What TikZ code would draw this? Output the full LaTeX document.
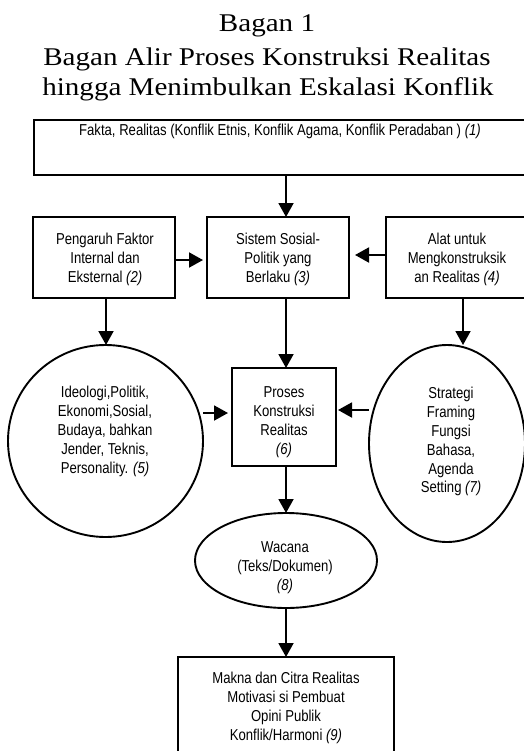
\documentclass[tikz,border=0pt]{standalone}
\usepackage{fontspec}
\setmainfont{Liberation Serif}
\newfontfamily\diagfont[FakeStretch=0.83]{Liberation Sans}
\newfontfamily\titlefont[FakeStretch=1.14]{Liberation Serif}
\usetikzlibrary{arrows.meta,shapes.geometric}
\begin{document}
\begin{tikzpicture}[x=1bp,y=-1bp,line width=1.9bp,
  boxnode/.style={draw,rectangle,inner sep=0,outer sep=0},
  ellnode/.style={draw,ellipse,inner sep=0,outer sep=0},
  txt/.style={font=\diagfont\fontsize{15.8bp}{18.8bp}\selectfont,align=center,inner sep=0,anchor=north},
  arr/.style={-{Triangle[width=15bp,length=14bp]},line width=1.9bp},
  ttl/.style={font=\titlefont\fontsize{25.5bp}{30bp}\selectfont,anchor=base,inner sep=0}]
\useasboundingbox (0,0) rectangle (524,751);
\clip (0,0) rectangle (524,751);
\fill[white] (0,0) rectangle (524,751);
% title
\node[ttl] (t1) at (267,32) {Bagan 1};
\node[ttl] (t2) at (267,66) {Bagan Alir Proses Konstruksi Realitas};
\node[ttl] (t3) at (268,95) {hingga Menimbulkan Eskalasi Konflik};
% shapes
\node[boxnode,minimum width=492bp,minimum height=55bp] (b1) at (280,147.5) {};
\node[boxnode,minimum width=142bp,minimum height=81bp] (b2) at (104,257.5) {};
\node[boxnode,minimum width=142bp,minimum height=81bp] (b3) at (278,257.5) {};
\node[boxnode,minimum width=142bp,minimum height=81bp] (b4) at (457,257.5) {};
\node[boxnode,minimum width=104bp,minimum height=98bp] (b6) at (284,417) {};
\node[boxnode,minimum width=216bp,minimum height=112bp] (b9) at (286,713) {};
\node[ellnode,minimum width=195bp,minimum height=192bp] (e5) at (105.5,441) {};
\node[ellnode,minimum width=156bp,minimum height=197bp] (e7) at (447,443.5) {};
\node[ellnode,minimum width=182bp,minimum height=95bp] (e8) at (286,560.5) {};
% texts
\node[txt] (l1) at (280,123.5) {\rule{0pt}{11.5bp}Fakta, Realitas (Konflik Etnis, Konflik Agama, Konflik Peradaban ) \textit{(1)}};
\node[txt] (l2) at (105,232.5) {\rule{0pt}{11.5bp}Pengaruh Faktor\\Internal dan\\Eksternal \textit{(2)}};
\node[txt] (l3) at (278,232.5) {\rule{0pt}{11.5bp}Sistem Sosial-\\Politik yang\\Berlaku \textit{(3)}};
\node[txt] (l4) at (457,232.5) {\rule{0pt}{11.5bp}Alat untuk\\Mengkonstruksik\\an Realitas \textit{(4)}};
\node[txt] (l6) at (284,385.5) {\rule{0pt}{11.5bp}Proses\\Konstruksi\\Realitas\\\textit{(6)}};
\node[txt] (l5) at (105,385.5) {\rule{0pt}{11.5bp}Ideologi,Politik,\\Ekonomi,Sosial,\\Budaya, bahkan\\Jender, Teknis,\\Personality. \textit{(5)}};
\node[txt] (l7) at (451,386.5) {\rule{0pt}{11.5bp}Strategi\\Framing\\Fungsi\\Bahasa,\\Agenda\\Setting \textit{(7)}};
\node[txt] (l8) at (285,540) {\rule{0pt}{11.5bp}Wacana\\(Teks/Dokumen)\\\textit{(8)}};
\node[txt] (l9) at (286,671.5) {\rule{0pt}{11.5bp}Makna dan Citra Realitas\\Motivasi si Pembuat\\Opini Publik\\Konflik/Harmoni \textit{(9)}};
% columns
\coordinate (mid) at (286,0);
\coordinate (lc) at (106,0);
\coordinate (rc) at (463,0);
% connectors
\draw[arr] (mid |- b1.south) -- (mid |- b3.north);
\draw[arr] (mid |- b3.south) -- (mid |- b6.north);
\draw[arr] (mid |- b6.south) -- (mid |- e8.north);
\draw[arr] (mid |- e8.south) -- (mid |- b9.north);
\draw[arr,shorten >=4bp] ([yshift=-2.5bp]b2.east) -- ([yshift=-2.5bp]b3.west);
\draw[arr,shorten >=6bp] ([yshift=2.5bp]b4.west) -- ([yshift=2.5bp]b3.east);
\draw[arr] (lc |- b2.south) -- (lc |- e5.north);
\draw[arr] (rc |- b4.south) -- (rc |- e7.north);
\draw[arr,shorten >=4bp] (e5.east |- 0,413) -- (b6.west |- 0,413);
\draw[arr,shorten >=2bp] (e7.west |- 0,410) -- (b6.east |- 0,410);
\end{tikzpicture}
\end{document}
